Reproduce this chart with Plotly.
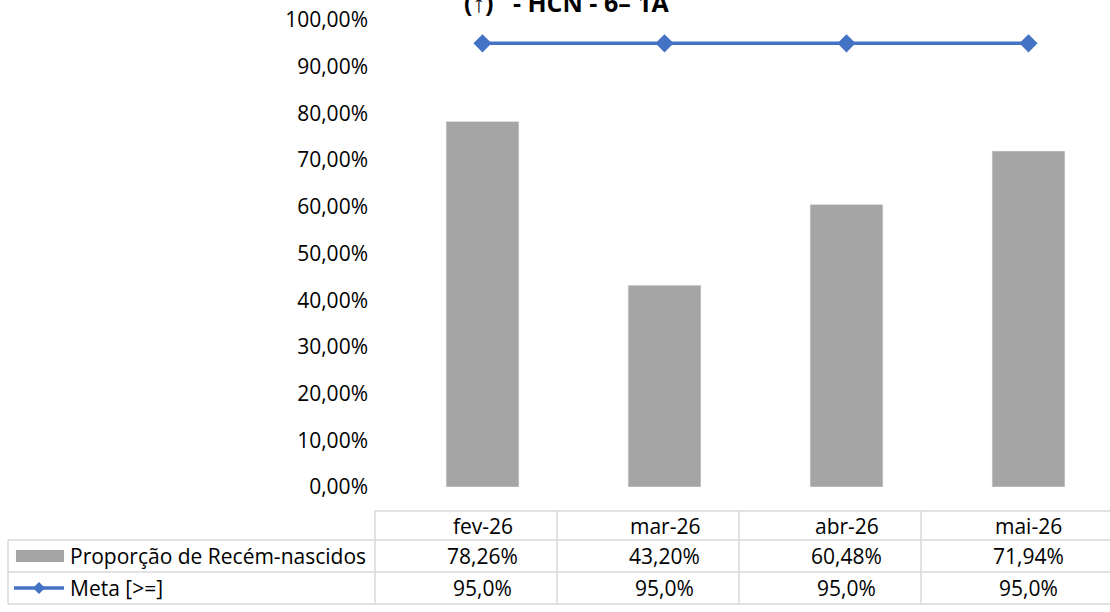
import plotly.graph_objects as go

# --- data ---
months = ["fev-26", "mar-26", "abr-26", "mai-26"]
proporcao = [78.26, 43.20, 60.48, 71.94]
meta = [95.0, 95.0, 95.0, 95.0]
y_ticks = [0, 10, 20, 30, 40, 50, 60, 70, 80, 90, 100]
series_names = ["Proporção de Recém-nascidos", "Meta [>=]"]
title_text = "(↑)   - HCN - 6– 1A"

W, H = 1110, 612
PLOT_L, PLOT_T, PLOT_B = 375, 20, 487
FONT = "Open Sans"
FS = 21
BAR_COLOR = "#A5A5A5"
LINE_COLOR = "#4472C4"
GRID_COLOR = "#D9D9D9"


def py(ypx):
    """pixel row -> paper y"""
    return (PLOT_B - ypx) / (PLOT_B - PLOT_T)


def px(xpx):
    """pixel column -> paper x"""
    return (xpx - PLOT_L) / (W - PLOT_L)


fig = go.Figure()
fig.add_trace(go.Bar(x=months, y=proporcao, marker_color=BAR_COLOR, width=0.4,
                     name=series_names[0], hoverinfo="skip"))
fig.add_trace(go.Scatter(x=months, y=meta, mode="lines+markers", name=series_names[1],
                         line=dict(color=LINE_COLOR, width=3.5),
                         marker=dict(symbol="diamond", size=14, color=LINE_COLOR),
                         hoverinfo="skip"))

shapes = []
annotations = []

# data table grid
row_lines = [511, 540, 572, 604]
col_lines = [375, 557, 739, 921]
line_style = dict(color=GRID_COLOR, width=1.5)
# horizontal lines
shapes.append(dict(type="line", xref="paper", yref="paper", x0=px(375), x1=px(W),
                   y0=py(row_lines[0]), y1=py(row_lines[0]), line=line_style))
for r in row_lines[1:]:
    shapes.append(dict(type="line", xref="paper", yref="paper", x0=px(8), x1=px(W),
                       y0=py(r), y1=py(r), line=line_style))
# vertical lines
shapes.append(dict(type="line", xref="paper", yref="paper", x0=px(8), x1=px(8),
                   y0=py(row_lines[1]), y1=py(row_lines[3]), line=line_style))
for c in col_lines:
    shapes.append(dict(type="line", xref="paper", yref="paper", x0=px(c), x1=px(c),
                       y0=py(row_lines[0]), y1=py(row_lines[3]), line=line_style))

row_centers = [(row_lines[i] + row_lines[i + 1]) / 2 for i in range(3)]
cell_font = dict(family=FONT, size=FS, color="#000000")

for i, m in enumerate(months):
    annotations.append(dict(x=m, xref="x", y=py(row_centers[0]), yref="paper", text=m,
                            showarrow=False, font=cell_font, xanchor="center", yanchor="middle"))
    annotations.append(dict(x=m, xref="x", y=py(row_centers[1]), yref="paper",
                            text=f"{proporcao[i]:.2f}%".replace(".", ","),
                            showarrow=False, font=cell_font, xanchor="center", yanchor="middle"))
    annotations.append(dict(x=m, xref="x", y=py(row_centers[2]), yref="paper",
                            text=f"{meta[i]:.1f}%".replace(".", ","),
                            showarrow=False, font=cell_font, xanchor="center", yanchor="middle"))

# row headers with legend keys
for j, name in enumerate(series_names):
    annotations.append(dict(x=px(68), xref="paper", y=py(row_centers[j + 1]), yref="paper",
                            text=name, showarrow=False, font=cell_font,
                            xanchor="left", yanchor="middle"))
yc = row_centers[1]
shapes.append(dict(type="rect", xref="paper", yref="paper", x0=px(16), x1=px(64),
                   y0=py(yc - 6), y1=py(yc + 6), fillcolor=BAR_COLOR, line_width=0))
yc = row_centers[2]
shapes.append(dict(type="line", xref="paper", yref="paper", x0=px(14), x1=px(64),
                   y0=py(yc), y1=py(yc), line=dict(color=LINE_COLOR, width=3.5)))
shapes.append(dict(type="path", xref="paper", yref="paper",
                   path=(f"M {px(39)} {py(yc - 6)} L {px(45)} {py(yc)} "
                         f"L {px(39)} {py(yc + 6)} L {px(33)} {py(yc)} Z"),
                   fillcolor=LINE_COLOR, line_width=0))

# chart title (top partially outside the canvas)
annotations.append(dict(x=px(566), xref="paper", y=py(21), yref="paper", text=f"<b>{title_text}</b>",
                        showarrow=False, font=dict(family=FONT, size=25, color="#000000"),
                        xanchor="center", yanchor="bottom"))

# category range so bars sit at the right horizontal positions
span = (W - PLOT_L) / 182.0
r0 = -(482.5 - PLOT_L) / 182.0

fig.update_layout(
    width=W, height=H,
    margin=dict(l=PLOT_L, r=0, t=PLOT_T, b=H - PLOT_B),
    paper_bgcolor="white", plot_bgcolor="white",
    showlegend=False,
    shapes=shapes, annotations=annotations,
    xaxis=dict(type="category", range=[r0, r0 + span], showticklabels=False,
               showgrid=False, zeroline=False, showline=False, fixedrange=True),
    yaxis=dict(range=[0, 100], tickvals=y_ticks,
               ticktext=[f"{v:.2f}%".replace(".", ",") for v in y_ticks],
               showgrid=False, zeroline=False, showline=False,
               tickfont=dict(family=FONT, size=FS, color="#000000"),
               ticks="", ticklabelstandoff=6, fixedrange=True),
)

fig.write_html("out.html")
